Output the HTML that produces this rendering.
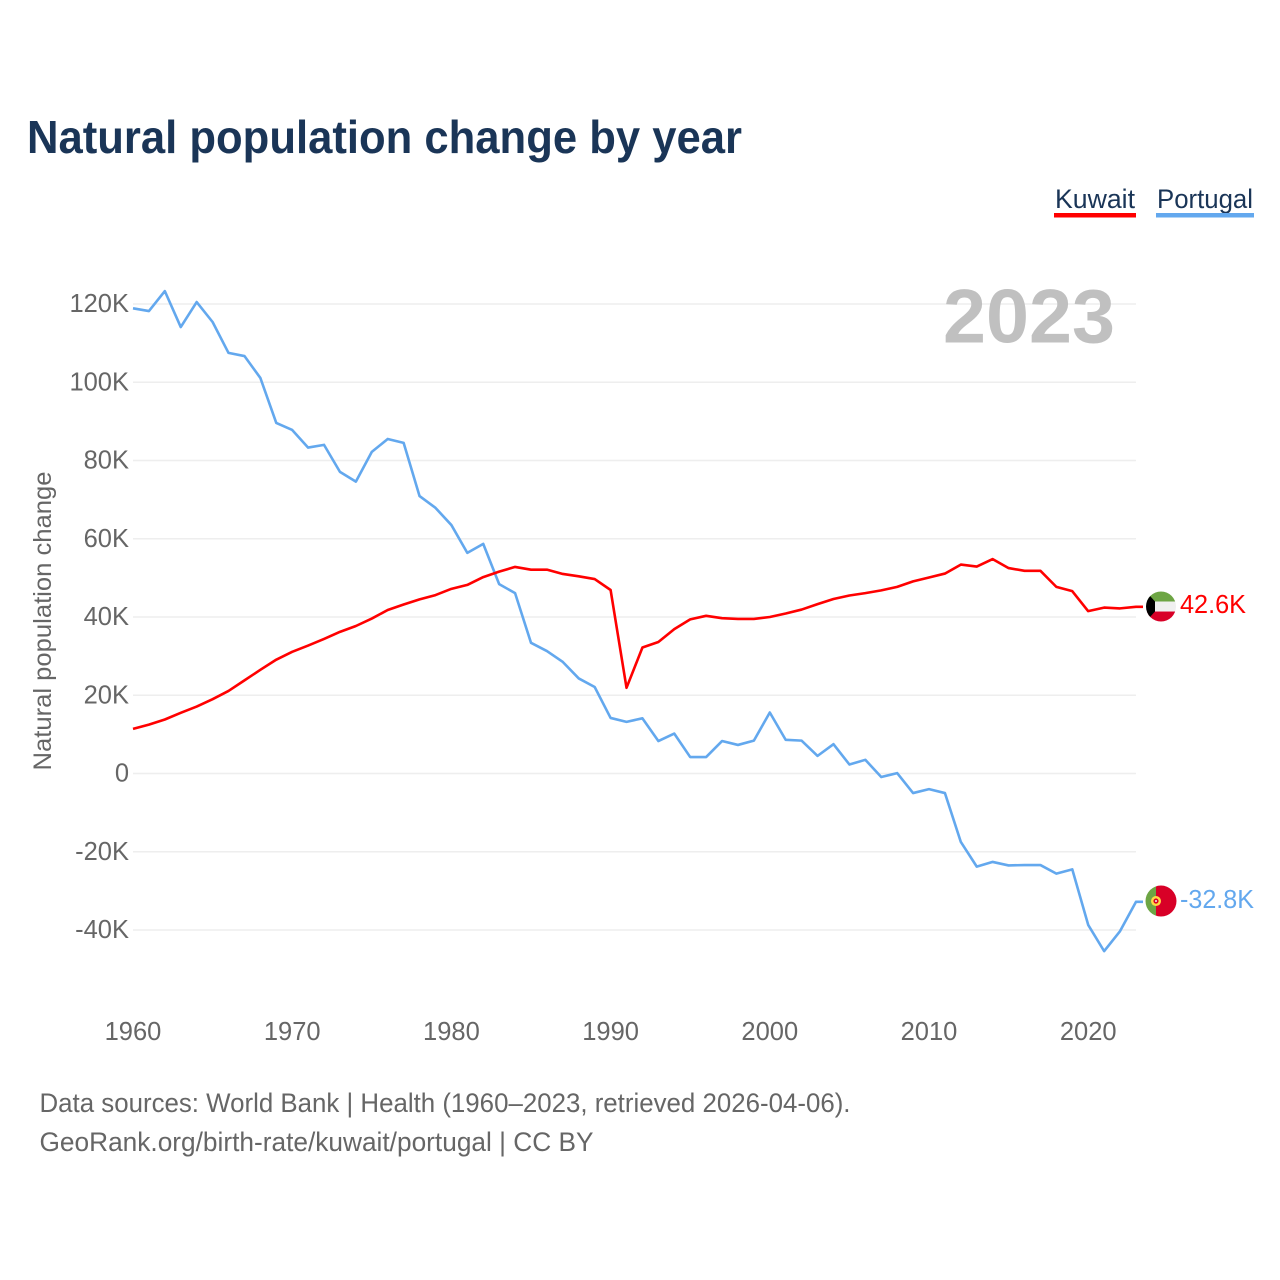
<!DOCTYPE html>
<html lang="en">
<head>
<meta charset="utf-8">
<title>Natural population change by year</title>
<style>
html,body{margin:0;padding:0;background:#fff;width:1280px;height:1280px;overflow:hidden}
svg{display:block}
text{font-family:"Liberation Sans",sans-serif}
</style>
</head>
<body>
<svg id="chart" width="1280" height="1280" viewBox="0 0 1280 1280" xmlns="http://www.w3.org/2000/svg">
  <defs>
    <clipPath id="flag-clip-k"><circle cx="1161" id="clip-k" r="15"></circle></clipPath>
    <clipPath id="flag-clip-p"><circle cx="1161" id="clip-p" r="15.5"></circle></clipPath>
  </defs>
  <text x="27" y="153" font-size="46" font-weight="700" fill="#1a3557" textLength="715" lengthAdjust="spacingAndGlyphs">Natural population change by year</text>

  <text x="1055" y="208" font-size="27" fill="#1a3557" textLength="80" lengthAdjust="spacingAndGlyphs">Kuwait</text>
  <rect x="1054" y="213" width="82" height="4.5" fill="#ff0000"></rect>
  <text x="1157" y="208" font-size="27" fill="#1a3557" textLength="96" lengthAdjust="spacingAndGlyphs">Portugal</text>
  <rect x="1156" y="213" width="98" height="4.5" fill="#63a8ee"></rect>

  <g id="grid"></g>
  <text x="943" y="342.5" font-size="76" font-weight="700" fill="#c0c0c0" textLength="172" lengthAdjust="spacingAndGlyphs">2023</text>
  <g id="yticks"></g>
  <g id="xticks"></g>
  <text transform="translate(51,621) rotate(-90)" text-anchor="middle" font-size="25" fill="#666666" textLength="299" lengthAdjust="spacingAndGlyphs">Natural population change</text>
  <g id="series"></g>

  <g id="flag-kuwait" clip-path="url(#flag-clip-k)">
    <rect id="k-green" x="1146" width="30" height="10" fill="#6da544"></rect>
    <rect id="k-white" x="1146" width="30" height="10" fill="#f0f0f0"></rect>
    <rect id="k-red" x="1146" width="30" height="11" fill="#d80027"></rect>
    <polygon id="k-black" fill="#000000" points="0,0"></polygon>
  </g>
  <g id="flag-portugal" clip-path="url(#flag-clip-p)">
    <rect id="p-green" x="1145" width="11" height="32" fill="#6da544"></rect>
    <rect id="p-red" x="1156" width="21" height="32" fill="#d80027"></rect>
    <circle id="p-ring" cx="1156" r="5" fill="#ffda44"></circle>
    <circle id="p-shield" cx="1156" r="2.6" fill="#d80027"></circle>
    <circle id="p-dot" cx="1156" r="1" fill="#f0f0f0"></circle>
  </g>
  <text id="label-k" x="1180" font-size="25.5" fill="#ff0000" textLength="66" lengthAdjust="spacingAndGlyphs"></text>
  <text id="label-p" x="1180" font-size="25.5" fill="#63a8ee" textLength="74" lengthAdjust="spacingAndGlyphs"></text>

  <text x="39.5" y="1112" font-size="27" fill="#666666" textLength="811" lengthAdjust="spacingAndGlyphs">Data sources: World Bank | Health (1960–2023, retrieved 2026-04-06).</text>
  <text x="39.5" y="1151" font-size="27" fill="#666666" textLength="554" lengthAdjust="spacingAndGlyphs">GeoRank.org/birth-rate/kuwait/portugal | CC BY</text>
</svg>
<script>
var startYear = 1960;
var xTickYears = [1960, 1970, 1980, 1990, 2000, 2010, 2020];
var yTickValues = [120, 100, 80, 60, 40, 20, 0, -20, -40];
var kuwaitValues = [11.4,12.5,13.8,15.5,17.1,19.0,21.1,23.8,26.5,29.1,31.1,32.7,34.4,36.2,37.7,39.6,41.8,43.2,44.5,45.6,47.2,48.2,50.2,51.6,52.8,52.1,52.1,51.0,50.4,49.7,46.9,21.9,32.2,33.6,36.9,39.4,40.3,39.7,39.5,39.5,40.0,40.9,41.9,43.3,44.6,45.5,46.1,46.8,47.7,49.1,50.1,51.1,53.4,52.9,54.8,52.5,51.8,51.8,47.7,46.6,41.5,42.4,42.2,42.6];
var portugalValues = [118.9,118.2,123.3,114.1,120.5,115.4,107.5,106.7,101.1,89.6,87.8,83.3,84.0,77.1,74.6,82.2,85.5,84.5,70.9,67.9,63.5,56.4,58.7,48.4,46.1,33.4,31.3,28.5,24.3,22.1,14.2,13.2,14.1,8.3,10.2,4.2,4.2,8.3,7.3,8.4,15.6,8.6,8.4,4.5,7.5,2.3,3.5,-0.9,0.1,-5.0,-4.0,-5.0,-17.5,-23.8,-22.6,-23.5,-23.4,-23.4,-25.6,-24.5,-38.7,-45.4,-40.3,-32.8];

var NS = 'http://www.w3.org/2000/svg';
function xScale(year){ return 133 + (year - 1960) * 15.92; }
function yScale(v){ return 773.5 - v * 3.9125; }
function fmt(v){ return v === 0 ? '0' : v + 'K'; }
function fmtEnd(v){ return v.toFixed(1) + 'K'; }

var grid = document.getElementById('grid');
var yticks = document.getElementById('yticks');
yTickValues.forEach(function(v){
  var line = document.createElementNS(NS, 'line');
  
  
  line.setAttribute('x1', 133);
  line.setAttribute('x2', xScale(2023));
  line.setAttribute('y1', yScale(v));
  line.setAttribute('y2', yScale(v));
  line.setAttribute('stroke', '#eeeeee');
  line.setAttribute('stroke-width', '1.5');
  grid.appendChild(line);
  var t = document.createElementNS(NS, 'text');
  
  
  t.setAttribute('x', 129);
  t.setAttribute('y', yScale(v) + 8);
  t.setAttribute('text-anchor', 'end');
  t.setAttribute('font-size', '25.5');
  t.setAttribute('fill', '#666666');
  t.textContent = fmt(v);
  yticks.appendChild(t);
});

var xticks = document.getElementById('xticks');
xTickYears.forEach(function(y){
  var t = document.createElementNS(NS, 'text');
  
  
  t.setAttribute('x', xScale(y));
  t.setAttribute('y', 1040);
  t.setAttribute('text-anchor', 'middle');
  t.setAttribute('font-size', '25.5');
  t.setAttribute('fill', '#666666');
  t.textContent = y;
  xticks.appendChild(t);
});

var series = document.getElementById('series');
function drawLine(values, color){
  var pts = values.map(function(v, i){
    return xScale(startYear + i).toFixed(2) + ',' + yScale(v).toFixed(2);
  });
  pts.push('1143,' + yScale(values[values.length - 1]).toFixed(2));
  var p = document.createElementNS(NS, 'polyline');
  p.setAttribute('points', pts.join(' '));
  p.setAttribute('fill', 'none');
  p.setAttribute('stroke', color);
  p.setAttribute('stroke-width', '2.6');
  p.setAttribute('stroke-linejoin', 'round');
  return p;
}
var portugalLine = drawLine(portugalValues, '#63a8ee');


series.appendChild(portugalLine);
var kuwaitLine = drawLine(kuwaitValues, '#ff0000');


series.appendChild(kuwaitLine);

function setY(id, y){ document.getElementById(id).setAttribute('y', y); }
function setCy(id, y){ document.getElementById(id).setAttribute('cy', y); }

var kEnd = kuwaitValues[kuwaitValues.length - 1];
var kY = yScale(kEnd) - 0.3;
setCy('clip-k', kY);
setY('k-green', kY - 15);
setY('k-white', kY - 5);
setY('k-red', kY + 5);
document.getElementById('k-black').setAttribute('points',
  '1146,' + (kY - 15) + ' 1155,' + (kY - 5) + ' 1155,' + (kY + 5) + ' 1146,' + (kY + 15));
var labelK = document.getElementById('label-k');
labelK.setAttribute('y', kY + 6.5);
labelK.textContent = fmtEnd(kEnd);

var pEnd = portugalValues[portugalValues.length - 1];
var pY = yScale(pEnd) - 0.8;
setCy('clip-p', pY);
setY('p-green', pY - 16);
setY('p-red', pY - 16);
setCy('p-ring', pY);
setCy('p-shield', pY);
setCy('p-dot', pY);
var labelP = document.getElementById('label-p');
labelP.setAttribute('y', pY + 7);
labelP.textContent = fmtEnd(pEnd);
</script>
</body>
</html>
